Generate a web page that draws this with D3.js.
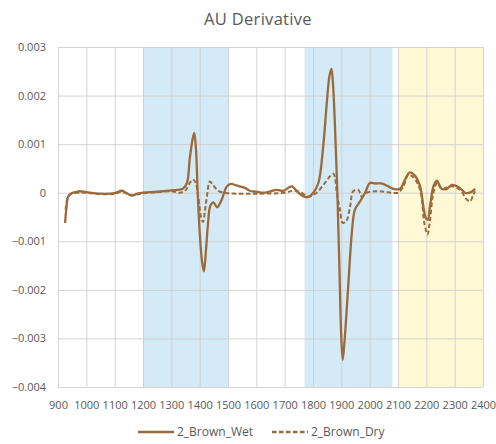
<!DOCTYPE html>
<html>
<head>
<meta charset="utf-8">
<script src="https://cdn.jsdelivr.net/npm/d3@7"></script>
<style>
  body { margin: 0; background: #fff; }
  text { font-family: "Open Sans", sans-serif; fill: #595959; }
</style>
</head>
<body>
<div id="chart"></div>
<script>
// data
var wetX = [925, 930, 936, 945, 960, 978, 1000, 1050, 1100, 1125, 1140, 1160, 1180, 1200, 1250, 1300, 1340,
  1355, 1365, 1375, 1381, 1387, 1393, 1400, 1408, 1415, 1422, 1430, 1437, 1448, 1462, 1478, 1495, 1510, 1530,
  1560, 1577, 1600, 1625, 1650, 1672, 1695, 1725, 1748, 1765, 1783, 1801, 1819, 1836, 1848, 1858, 1865, 1871,
  1878, 1886, 1893, 1900, 1905, 1912, 1925, 1937, 1948, 1966, 1984, 2001, 2020, 2042, 2066, 2084, 2107, 2125,
  2142, 2160, 2178, 2190, 2198, 2205, 2213, 2225, 2237, 2254, 2272, 2290, 2313, 2337, 2354, 2372];
var wetY = [-0.00062, -0.0003, -0.00008, -0.00002, 0.00001, 0.00003, 0.00001, -0.00002, -0.00001, 0.00004, 0.0,
  -0.00006, -0.00002, 0.0, 0.00002, 0.00005, 0.00008,
  0.0002, 0.0007, 0.0011, 0.00123, 0.0009, 0.0, -0.0008, -0.0014, -0.00162, -0.0012, -0.0006, -0.00028, -0.0002,
  -0.0003, -0.00014, 0.00012, 0.00018, 0.00015,
  0.0001, 0.00004, 0.00002, 0.0, 0.00003, 0.00006, 0.00004, 0.00013, 0.0, -0.00007, -0.00009, 0.0, 0.0002,
  0.00095, 0.0018, 0.0024, 0.00255, 0.0022,
  0.0013, 0.0, -0.0015, -0.003, -0.00344, -0.003, -0.00186, -0.00083, -0.00035, -0.00018, 0.0, 0.0002, 0.00019,
  0.00019, 0.00013, 0.00008, 0.00008, 0.00027,
  0.00042, 0.00035, 0.00013, -0.0003, -0.00052, -0.00056, -0.00028, 0.00013, 0.00025, 0.00008, 0.00008, 0.00016,
  0.00012, 0.0, 0.0, 0.00008];

var dryX = [927, 933, 945, 970, 1000, 1050, 1100, 1125, 1160, 1200, 1250, 1300, 1330, 1350, 1365, 1375, 1385,
  1393, 1400, 1407, 1412, 1418, 1425, 1436, 1445, 1458, 1472, 1500, 1600, 1700, 1730, 1754, 1783, 1813, 1842,
  1860, 1872, 1878, 1884, 1895, 1905, 1917, 1931, 1942, 1960, 1972, 1989, 2025, 2050, 2078, 2101, 2119, 2136,
  2154, 2178, 2193, 2204, 2213, 2225, 2239, 2254, 2278, 2295, 2319, 2343, 2354, 2366, 2372];
var dryY = [-0.00035, -0.00012, -0.00003, 0.0, 0.0, -0.00003, -0.00002, 0.00002, -0.00005, -0.00001, 0.00001,
  0.00003, 0.0, 0.00005, 0.0002, 0.00027, 0.00022,
  0.0, -0.0003, -0.00056, -0.0006, -0.0004, -0.0001, 0.00023, 0.00018, 0.00008, 0.00002, -0.00001, -0.00002, 0.0,
  0.00004, 0.00002, -0.00008, 0.0, 0.0002,
  0.00034, 0.00039, 0.0003, 0.0, -0.00035, -0.00062, -0.00059, -0.00028, 0.00003, 0.00006, -0.00008, 0.0, 0.00003,
  0.00002, 0.0, 0.0, 0.00013, 0.00037,
  0.00032, 0.00006, -0.00062, -0.00086, -0.00056, 0.0, 0.00021, 0.00008, 0.00012, 0.00013, 0.00006, -0.00014,
  -0.00018, -0.00004, 0.00003];

var xTicks = [900, 1000, 1100, 1200, 1300, 1400, 1500, 1600, 1700, 1800, 1900, 2000, 2100, 2200, 2300, 2400];
var yTicks = [-0.004, -0.003, -0.002, -0.001, 0, 0.001, 0.002, 0.003];

// shaded regions [start, end]
var blueBands = [[1200, 1500], [1770, 2080]];
var yellowBands = [[2100, 2400]];

var seriesNames = ["2_Brown_Wet", "2_Brown_Dry"];

var svgWidth = 496;
var svgHeight = 444;
var margin = { top: 47, right: 13, bottom: 57, left: 58 };
var width = svgWidth - margin.left - margin.right;
var height = svgHeight - margin.top - margin.bottom;

var lineColor = "#9b6a3a";

var svg = d3.select("#chart")
  .append("svg")
  .attr("width", svgWidth)
  .attr("height", svgHeight);

var chartGroup = svg.append("g")
  .attr("transform", `translate(${margin.left}, ${margin.top})`);

var x = d3.scaleLinear().domain([900, 2400]).range([0, width]);
var y = d3.scaleLinear().domain([-0.004, 0.003]).range([height, 0]);

// bands
chartGroup.selectAll(".blue")
  .data(blueBands)
  .enter()
  .append("rect")
  .attr("x", d => x(d[0]))
  .attr("width", d => x(d[1]) - x(d[0]))
  .attr("y", 0)
  .attr("height", height)
  .attr("fill", "#d5eaf7");

chartGroup.selectAll(".yellow")
  .data(yellowBands)
  .enter()
  .append("rect")
  .attr("x", d => x(d[0]))
  .attr("width", d => x(d[1]) - x(d[0]))
  .attr("y", 0)
  .attr("height", height)
  .attr("fill", "#fff8d5");

// grid
var xAxis = d3.axisBottom(x).tickValues(xTicks).tickSize(-height).tickFormat(d3.format("d"));
var yAxis = d3.axisLeft(y).tickValues(yTicks).tickSize(-width).tickFormat(d => d === 0 ? "0" : d3.format(".3f")(d));

var gx = chartGroup.append("g")
  .attr("transform", `translate(0, ${height})`)
  .call(xAxis);
var gy = chartGroup.append("g")
  .call(yAxis);

[gx, gy].forEach(function(g) {
  g.select(".domain").remove();
  g.selectAll("line").attr("stroke", "#cccccc").attr("stroke-opacity", 0.85);
  g.selectAll("text").attr("font-size", 11).attr("fill", "#595959")
    .style("font-family", "'Open Sans', sans-serif");
});
gx.selectAll("text").attr("dy", "1.7em");
gy.selectAll("text").attr("x", -12);

// lines
var line = d3.line()
  .x(d => x(d[0]))
  .y(d => y(d[1]))
  .curve(d3.curveCatmullRom.alpha(0.5));

var wetData = wetX.map((v, i) => [v, wetY[i]]);
var dryData = dryX.map((v, i) => [v, dryY[i]]);

chartGroup.append("path")
  .datum(dryData)
  .attr("d", line)
  .attr("fill", "none")
  .attr("stroke", lineColor)
  .attr("stroke-width", 2)
  .attr("stroke-dasharray", "4.5,2.5");

chartGroup.append("path")
  .datum(wetData)
  .attr("d", line)
  .attr("fill", "none")
  .attr("stroke", lineColor)
  .attr("stroke-width", 2.3);

// title
svg.append("text")
  .attr("x", 258)
  .attr("y", 25)
  .attr("text-anchor", "middle")
  .attr("font-size", 16.5)
  .attr("letter-spacing", 0.3)
  .text("AU Derivative");

// legend
var legend = svg.append("g");
var legendX = [138, 272];
seriesNames.forEach(function(name, i) {
  legend.append("line")
    .attr("x1", legendX[i])
    .attr("x2", legendX[i] + 36)
    .attr("y1", 432)
    .attr("y2", 432)
    .attr("stroke", lineColor)
    .attr("stroke-width", 2.3)
    .attr("stroke-dasharray", i === 1 ? "4.5,2.5" : null);
  legend.append("text")
    .attr("x", legendX[i] + 39)
    .attr("y", 436)
    .attr("font-size", 12)
    .text(name);
});
</script>
</body>
</html>
